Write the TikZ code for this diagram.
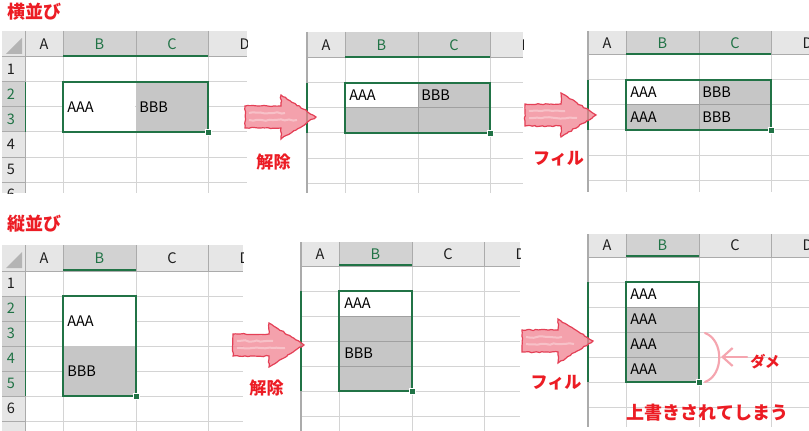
\documentclass[tikz,border=0pt]{standalone}
\usepackage{fontspec}
\setmainfont{Noto Sans CJK JP}
\usetikzlibrary{arrows.meta,decorations.pathmorphing}
\definecolor{xlgreen}{RGB}{33,115,70}
\definecolor{hdrbgc}{RGB}{230,230,230}
\definecolor{hdrselc}{RGB}{210,210,210}
\definecolor{hsepc}{RGB}{171,171,171}
\definecolor{gridc}{RGB}{212,212,212}
\definecolor{cellsel}{RGB}{198,198,198}
\definecolor{selgridc}{RGB}{160,160,160}
\definecolor{cornerc}{RGB}{180,180,180}
\definecolor{labred}{RGB}{236,28,36}
\definecolor{arrfill}{RGB}{242,138,152}
\definecolor{arrdraw}{RGB}{228,64,86}
\definecolor{pinkline}{RGB}{245,165,175}
\definecolor{txtc}{RGB}{30,30,30}
\tikzset{
  hdrtxt/.style={font=\fontsize{10.9}{12}\selectfont, text=txtc, inner sep=0pt},
  hdrseltxt/.style={hdrtxt, text=xlgreen},
  celltxt/.style={font=\fontsize{10.9}{12}\selectfont, text=black, anchor=west, inner sep=0pt},
  gridln/.style={draw=gridc, line width=0.75pt},
  hsepln/.style={draw=hsepc, line width=0.75pt},
  selgridln/.style={draw=selgridc, line width=0.75pt},
  selbox/.style={draw=xlgreen, line width=1.5pt},
  selmark/.style={draw=xlgreen, line width=1.5pt},
  handle/.style={fill=xlgreen, draw=white, line width=0.6pt},
  titletxt/.style={font=\fontsize{13.5}{15}\selectfont\bfseries, text=labred, inner sep=0pt},
  labeltxt/.style={font=\fontsize{12.8}{14}\selectfont\bfseries, text=labred, inner sep=0pt},
  smalltxt/.style={font=\fontsize{11.3}{13}\selectfont\bfseries, text=labred, inner sep=0pt},
  bigarr/.style={fill=arrfill, fill opacity=0.8, draw=arrdraw, line width=0.9pt,
     decorate, decoration={random steps, segment length=2pt, amplitude=0.5pt}},
  arrstreak/.style={draw=white, opacity=0.35, line width=1.5pt,
     decorate, decoration={random steps, segment length=3pt, amplitude=0.6pt}},
  pinkln/.style={draw=pinkline, line width=1.6pt, line cap=round},
  pinkarr/.style={pinkln, -{Straight Barb[length=7.5pt,width=13.5pt]}}
}
% #1 prefix #2 right #3 bottom #4 header height #5 selected cols #6 selected rows
\newcommand{\xlsheet}[6]{%
  \begin{scope}
    \clip (-1.5,-#4) rectangle (#2,#3);
    \fill[hdrbgc] (-1.5,-#4) rectangle (#2,0);
    \ifnum#5=2 \def\xlselr{183}\else\def\xlselr{111}\fi
    \fill[hdrselc] (38,-#4) rectangle (\xlselr,0);
    \foreach \c in {38,111,183}{
      \draw[hsepln] (\c,-#4) -- (\c,0);
      \draw[gridln] (\c,0) -- (\c,#3);}
    \foreach \r in {25,50,...,200}
      \draw[gridln] (0,\r) -- (#2,\r);
    \draw[hsepln] (0,0) -- (#2,0);
    \draw[selmark] (38,-0.75) -- (\xlselr,-0.75);
    \draw[hsepc, line width=1.5pt] (0,-#4) -- (0,#3);
    \draw[selmark] (0,25) -- (0,25+25*#6);
    \node[hdrtxt] (#1-A) at (19,-#4/2) {A};
    \node[hdrseltxt] (#1-B) at (74.5,-#4/2) {B};
    \ifnum#5=2 \node[hdrseltxt] (#1-C) at (147,-#4/2) {C};%
    \else \node[hdrtxt] (#1-C) at (147,-#4/2) {C};\fi
    \node[hdrtxt] (#1-D) at (219.5,-#4/2) {D};
  \end{scope}}
% #1 prefix #2 bottom #3 header height #4 selected rows
\newcommand{\xlrows}[4]{%
  \begin{scope}
    \clip (-23,-#3) rectangle (0,#2);
    \fill[hdrbgc] (-23,-#3) rectangle (0,#2);
    \fill[hdrselc] (-23,25) rectangle (0,25+25*#4);
    \fill[cornerc] (-19,-3) -- (-3,-3) -- (-3,-19) -- cycle;
    \foreach \r in {25,50,...,200} \draw[hsepln] (-23,\r) -- (0,\r);
    \draw[hsepln] (-23,0) -- (0,0);
    \foreach \k in {1,...,6}{
      \pgfmathsetmacro{\yy}{25*\k-12.5}
      \def\cc{txtc}
      \ifnum\k>1 \ifnum\k<\numexpr#4+2\relax \def\cc{xlgreen}\fi\fi
      \node[hdrtxt, text=\cc] (#1-r\k) at (-14,\yy) {\k};
    }
  \end{scope}}
% #1 name #2 left x #3 tip y
\newcommand{\bigarrow}[3]{%
  \draw[bigarr] (#2,#3-11) -- (#2+36,#3-11) -- (#2+36,#3-22) -- (#2+71,#3)
     -- (#2+36,#3+22) -- (#2+36,#3+11) -- (#2,#3+11) -- cycle;
  \draw[arrstreak] (#2+4,#3-4) -- (#2+40,#3-4);
  \draw[arrstreak] (#2+4,#3+3) -- (#2+52,#3+3);
  \coordinate (#1) at (#2+35,#3);}
\begin{document}
\begin{tikzpicture}[x=0.75pt,y=-0.75pt]
\useasboundingbox (0,0) rectangle (809,431);
\fill[white] (0,0) rectangle (809,431);

% titles
\node[titletxt] (t1) at (34.5,12) {横並び};
\node[titletxt] (t2) at (34.5,224) {縦並び};

% ---- panel 1
\begin{scope}[shift={(25,57)}]
  \xlsheet{p1}{222}{136}{26}{2}{2}
  \xlrows{p1}{136}{26}{2}
  \fill[white] (39,26) rectangle (110,74);
  \fill[cellsel] (111,26) rectangle (182,74);
  \node[celltxt] (p1-aaa) at (42,50) {AAA};
  \node[celltxt] (p1-bbb) at (114,50) {BBB};
  \draw[selbox] (38,25) rectangle (183,75);
  \draw[handle] (180,72) rectangle (186,78);
\end{scope}

% ---- panel 2
\begin{scope}[shift={(307,58)}]
  \xlsheet{p2}{216}{135}{26}{2}{2}
  \fill[cellsel] (111,25) rectangle (183,50);
  \fill[cellsel] (38,50) rectangle (183,75);
  \draw[selgridln] (38,50) -- (183,50);
  \draw[selgridln] (111,25) -- (111,75);
  \node[celltxt] (p2-aaa) at (42,37.5) {AAA};
  \node[celltxt] (p2-bbb) at (114,37.5) {BBB};
  \draw[selbox] (38,25) rectangle (183,75);
  \draw[handle] (180,72) rectangle (186,78);
\end{scope}

% ---- panel 3
\begin{scope}[shift={(588,55)}]
  \xlsheet{p3}{221}{137}{24}{2}{2}
  \fill[cellsel] (111,25) rectangle (183,50);
  \fill[cellsel] (38,50) rectangle (183,75);
  \draw[selgridln] (38,50) -- (183,50);
  \draw[selgridln] (111,25) -- (111,75);
  \node[celltxt] (p3-aaa1) at (42,37.5) {AAA};
  \node[celltxt] (p3-bbb1) at (114,37.5) {BBB};
  \node[celltxt] (p3-aaa2) at (42,62.5) {AAA};
  \node[celltxt] (p3-bbb2) at (114,62.5) {BBB};
  \draw[selbox] (38,25) rectangle (183,75);
  \draw[handle] (180,72) rectangle (186,78);
\end{scope}

% ---- panel 4
\begin{scope}[shift={(25,271)}]
  \xlsheet{p4}{218}{160}{26}{1}{4}
  \xlrows{p4}{160}{26}{4}
  \fill[white] (39,26) rectangle (110,74);
  \fill[cellsel] (39,75) rectangle (110,124);
  \node[celltxt] (p4-aaa) at (42,50) {AAA};
  \node[celltxt] (p4-bbb) at (42,100) {BBB};
  \draw[selbox] (38,25) rectangle (111,125);
  \draw[handle] (108,122) rectangle (114,128);
\end{scope}

% ---- panel 5
\begin{scope}[shift={(301,266)}]
  \xlsheet{p5}{219}{165}{24}{1}{4}
  \fill[cellsel] (38,50) rectangle (111,125);
  \foreach \r in {50,75,100} \draw[selgridln] (38,\r) -- (111,\r);
  \node[celltxt] (p5-aaa) at (43,37.5) {AAA};
  \node[celltxt] (p5-bbb) at (43,87.5) {BBB};
  \draw[selbox] (38,25) rectangle (111,125);
  \draw[handle] (108,122) rectangle (114,128);
\end{scope}

% ---- panel 6
\begin{scope}[shift={(588,257)}]
  \xlsheet{p6}{221}{170}{23}{1}{4}
  \fill[cellsel] (38,50) rectangle (111,125);
  \foreach \r in {50,75,100} \draw[selgridln] (38,\r) -- (111,\r);
  \node[celltxt] (p6-a1) at (42,37.5) {AAA};
  \node[celltxt] (p6-a2) at (42,62.5) {AAA};
  \node[celltxt] (p6-a3) at (42,87.5) {AAA};
  \node[celltxt] (p6-a4) at (42,112.5) {AAA};
  \draw[selbox] (38,25) rectangle (111,125);
  \draw[handle] (108,122) rectangle (114,128);
\end{scope}

% big arrows
\bigarrow{arr1}{245}{117}
\bigarrow{arr2}{525}{115}
\bigarrow{arr3}{233}{345}
\bigarrow{arr4}{522}{341}

% labels
\node[labeltxt] (l1) at (273.5,162) {解除};
\node[labeltxt] (l2) at (558.5,159) {フィル};
\node[labeltxt] (l3) at (266.5,388) {解除};
\node[labeltxt] (l4) at (556,383) {フィル};
\node[titletxt] (l5) at (707.5,413) {上書きされてしまう};

% bracket and dame
\draw[pinkln] (705,333) .. controls (724,340) and (724,375) .. (705,382);
\coordinate (dtip) at (721,357);
\node[smalltxt, anchor=west] (dame) at (750,362) {ダメ};
\draw[pinkarr] (dtip -| dame.west) ++(-3,0) -- (dtip);
\end{tikzpicture}
\end{document}
